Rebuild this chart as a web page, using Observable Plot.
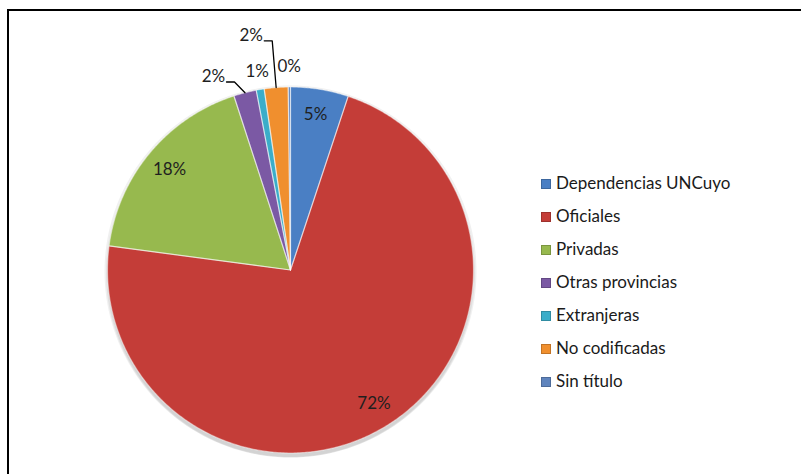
<!DOCTYPE html>
<html><head><meta charset="utf-8">
<script src="https://cdn.jsdelivr.net/npm/d3@7"></script>
<script src="https://cdn.jsdelivr.net/npm/@observablehq/plot@0.6"></script>
<style>
body{margin:0;background:#fff;}
#wrap{position:relative;width:801px;height:474px;overflow:hidden;font-family:Lato,"Open Sans",sans-serif;}
#frame{position:absolute;left:7px;top:9px;width:900px;height:600px;border-left:2px solid #000;border-top:2px solid #000;box-sizing:border-box;}
#chart{position:absolute;left:0;top:0;}
#chart svg{display:block;overflow:visible;}
.lg{position:absolute;left:541px;height:22px;line-height:22px;font-size:17px;color:#1a1a1a;white-space:nowrap;}
.lg i{display:inline-block;width:10px;height:10px;margin-right:5px;vertical-align:0px;box-sizing:border-box;}
</style></head>
<body><div id="wrap"><div id="frame"></div><div id="chart"></div><div id="legend"></div></div>
<script>
// ---- data ----
const categories = ["Dependencias UNCuyo","Oficiales","Privadas","Otras provincias","Extranjeras","No codificadas","Sin título"];
const values = [5.1, 72.0, 17.9, 2.0, 0.7, 2.1, 0.2];
const colors = ["#4a7fc4","#c43d38","#97b94e","#7b59a4","#3badc9","#f08f2e","#5f84bd"];

// ---- layout ----
const cx = 290, cy = 269.5, R = 183;
const total = d3.sum(values);
const arcs = d3.pie().sort(null).value(d => d)(values);

const deg = Math.PI / 180;
const pt = (a, r) => [Math.sin(a) * r, Math.cos(a) * r];

// slice polygons
const slicePts = [];
arcs.forEach((a, i) => {
  const key = categories[i];
  slicePts.push({key, x: 0, y: 0});
  const n = Math.max(2, Math.ceil((a.endAngle - a.startAngle) / (0.5 * deg)));
  for (let k = 0; k <= n; k++) {
    const t = a.startAngle + (a.endAngle - a.startAngle) * k / n;
    const [x, y] = pt(t, 1);
    slicePts.push({key, x, y});
  }
  slicePts.push({key, x: 0, y: 0});
});

// soft shadow rings under the pie (offset downward)
const shadowPts = [];
[[1.5, 1 + 3 / R, 0.05], [3, 1 + 1.5 / R, 0.07], [4, 1, 0.08]].forEach(([dy, r, op], j) => {
  for (let k = 0; k <= 360; k += 2) {
    const [x, y] = pt(k * deg, r);
    shadowPts.push({ring: j, op, x, y: y - dy / R});
  }
});

// outline circle for the shading overlay
const rimPts = d3.range(0, 361, 2).map(k => { const [x, y] = pt(k * deg, 1); return {x, y}; });

// label placement rules (outside labels for small slices)
const outside = {
  "Otras provincias": {shift: -7.3, r: 1.138, leader: true},
  "Extranjeras": {shift: 0, r: 1.10},
  "No codificadas": {shift: -5.0, r: 1.30, leader: true},
  "Sin título": {shift: 0, r: 1.112}
};
const labels = [], leaders = [];
arcs.forEach((a, i) => {
  const key = categories[i];
  const mid = (a.startAngle + a.endAngle) / 2;
  const text = Math.round(values[i] / total * 100) + "%";
  const o = outside[key];
  if (!o) {
    const [x, y] = pt(mid, 0.86);
    labels.push({key, x, y, text});
  } else {
    const [x, y] = pt(mid + o.shift * deg, o.r);
    labels.push({key, x, y, text});
    if (o.leader) {
      const [ex, ey] = pt(mid, 1.0);
      leaders.push({key, x: ex, y: ey});
      leaders.push({key, x: x + 21 / R, y: y - 5.5 / R});
      leaders.push({key, x: x + 13 / R, y: y - 5.5 / R});
    }
  }
});

const plot = Plot.plot({
  width: 801, height: 474, margin: 0,
  x: {domain: [-1, 1], range: [cx - R, cx + R], axis: null},
  y: {domain: [-1, 1], range: [cy + R, cy - R], axis: null},
  color: {domain: categories, range: colors},
  style: {background: "transparent", overflow: "visible"},
  marks: [
    Plot.line(shadowPts, {x: "x", y: "y", z: "ring", fill: "#000", fillOpacity: 0.06, stroke: "none", curve: "linear"}),
    Plot.line(slicePts, {x: "x", y: "y", z: "key", fill: "key", stroke: "none", curve: "linear"}),
    Plot.line(rimPts, {x: "x", y: "y", fill: "#000", stroke: "none", curve: "linear", ariaLabel: "shade"}),
    Plot.line(slicePts, {x: "x", y: "y", z: "key", stroke: "#ffffff", strokeOpacity: 0.45, strokeWidth: 1.2, fill: "none", curve: "linear"}),
    Plot.line(leaders, {x: "x", y: "y", z: "key", stroke: "#000", strokeWidth: 1.3, curve: "linear"}),
    Plot.text(labels, {x: "x", y: "y", text: "text", fill: "#1f1f1f", fontSize: 17, fontFamily: "Lato, 'Open Sans', sans-serif"})
  ]
});
document.getElementById("chart").appendChild(plot);

// radial shading (bevel-like rim) applied to the overlay circle
const ns = "http://www.w3.org/2000/svg";
const defs = document.createElementNS(ns, "defs");
defs.innerHTML = '<radialGradient id="rimShade" cx="50%" cy="50%" r="50%">' +
  '<stop offset="0%" stop-color="#fff" stop-opacity="0"/>' +
  '<stop offset="88%" stop-color="#fff" stop-opacity="0"/>' +
  '<stop offset="95%" stop-color="#fff" stop-opacity="0.10"/>' +
  '<stop offset="100%" stop-color="#000" stop-opacity="0.12"/>' +
  '</radialGradient>';
plot.appendChild(defs);
const shade = plot.querySelector('g[aria-label="shade"] path');
if (shade) shade.setAttribute("fill", "url(#rimShade)");

// legend
const lg = document.getElementById("legend");
categories.forEach((c, i) => {
  const d = document.createElement("div");
  d.className = "lg";
  d.style.top = (183 + 33 * i - 11) + "px";
  const col = colors[i];
  const dark = d3.color(col).darker(0.6).formatHex();
  d.innerHTML = `<i style="background:${col};border:1px solid ${dark}"></i>${c}`;
  lg.appendChild(d);
});
</script>
</body></html>
